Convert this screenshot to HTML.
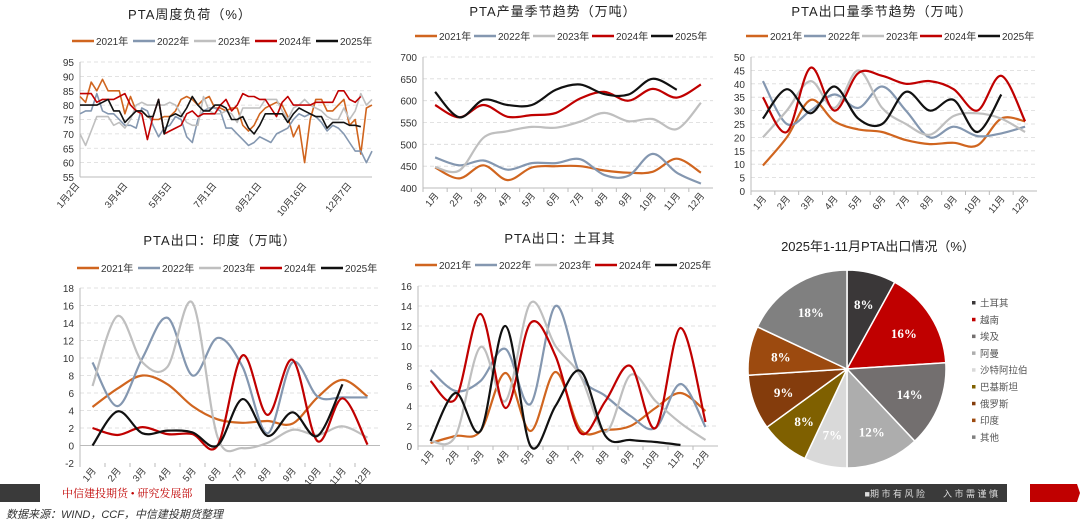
<!DOCTYPE html>
<html><head><meta charset="utf-8"><style>
html,body{margin:0;padding:0;background:#fff;}
svg{display:block;font-family:"Liberation Sans","Noto Sans CJK SC",sans-serif;}
</style></head><body>
<svg id="s" width="1080" height="525" viewBox="0 0 1080 525" xmlns="http://www.w3.org/2000/svg">
<rect width="1080" height="525" fill="#fff"/>
<rect x="0" y="484" width="40" height="18" fill="#3a3a3a"/>
<text x="62" y="497" font-size="11" fill="#c00000" font-family="Liberation Serif,Noto Serif CJK SC,serif">中信建投期货 • 研究发展部</text>
<rect x="205" y="484" width="802" height="18" fill="#3a3a3a"/>
<text x="998" y="497" font-size="9" fill="#ddd" text-anchor="end">■期 市 有 风 险　　入 市 需 谨 慎</text>
<polygon points="1030,484 1077,484 1080,493 1077,502 1030,502" fill="#c00000"/>
<text x="6" y="518" font-size="11" fill="#333" font-style="italic">数据来源：WIND，CCF，中信建投期货整理</text>
<g id="g"></g>
</svg>
<script>
const NS="http://www.w3.org/2000/svg";const G=document.getElementById('g');
function el(t,a,txt){const e=document.createElementNS(NS,t);for(const k in a)e.setAttribute(k,a[k]);if(txt!==undefined)e.textContent=txt;G.appendChild(e);return e;}
const COL=['#d0651f','#8497b0','#bfbfbf','#c00000','#111111'];
const YRS=['2021年','2022年','2023年','2024年','2025年'];
function f(n){return n.toFixed(1);}
function smooth(p){let d='M'+f(p[0][0])+','+f(p[0][1]);for(let i=0;i<p.length-1;i++){const p0=p[i-1]||p[i],p1=p[i],p2=p[i+1],p3=p[i+2]||p2;const c1=[p1[0]+(p2[0]-p0[0])/6,p1[1]+(p2[1]-p0[1])/6],c2=[p2[0]-(p3[0]-p1[0])/6,p2[1]-(p3[1]-p1[1])/6];d+=' C'+f(c1[0])+','+f(c1[1])+' '+f(c2[0])+','+f(c2[1])+' '+f(p2[0])+','+f(p2[1]);}return d;}
function poly(p){return 'M'+p.map(q=>f(q[0])+','+f(q[1])).join(' L');}
function legend(x0,y,spacing){for(let i=0;i<5;i++){const x=x0+i*spacing;el('line',{x1:x,y1:y,x2:x+22,y2:y,stroke:COL[i],'stroke-width':2.5});el('text',{x:x+24,y:y+4,'font-size':10,fill:'#333'},YRS[i]);}}
function chart(o){
 el('text',{x:o.tx,y:o.ty,'font-size':13,'text-anchor':'middle',fill:'#222','letter-spacing':'1'},o.title);
 legend(o.lx,o.ly,o.ls);
 const Y=v=>o.y0+(v-o.vmin)/(o.vmax-o.vmin)*(o.y1-o.y0);
 for(let v=o.vmin;v<=o.vmax+1e-9;v+=o.step){const y=Y(v);
  if(v>o.vmin)el('line',{x1:o.x0,y1:y,x2:o.x1,y2:y,stroke:'#d9d9d9','stroke-dasharray':'4,3','stroke-width':0.8});
  el('text',{x:o.x0-6,y:y+4,'font-size':10,'text-anchor':'end',fill:'#333'},''+v);}
 el('line',{x1:o.x0,y1:o.y1,x2:o.x0,y2:o.y0,stroke:'#bbb'});
 const zy=Y(o.axisAt!==undefined?o.axisAt:o.vmin);
 el('line',{x1:o.x0,y1:zy,x2:o.x1,y2:zy,stroke:'#bbb'});
 const n=o.n,w=(o.x1-o.x0)/n;
 if(o.months){for(let i=0;i<12;i++){const cx=o.x0+w*(i+0.5);el('line',{x1:o.x0+w*i,y1:o.y0,x2:o.x0+w*i,y2:o.y0+4,stroke:'#bbb'});
  el('text',{x:cx+4,y:o.y0+8,'font-size':9.5,'text-anchor':'end',fill:'#333',transform:`rotate(-50 ${cx+4} ${o.y0+8})`},(i+1)+'月');}}
 o.data.forEach((d,k)=>{const pts=d.map((v,i)=>[ (o.xf?o.xf(i):o.x0+w*(i+0.5)), Y(v)]);
  el('path',{d:o.lin?poly(pts):smooth(pts),fill:'none',stroke:COL[k],'stroke-width':o.sw||2.2,'stroke-linejoin':'round'});});
}
const w1=[[83,81,88,85,89,85,85,85,77,83,78,78,76,75,75,76,76,78,82,83,82,80,82,83,79,79,78,79,79,73,71,73,77,79,80,81,80,76,69,73,60,75,82,82,78,78,80,82,73,75,63,79,80],
[77,78,78,84,78,77,77,75,73,73,72,79,78,73,69,72,73,76,75,69,67,75,78,79,79,78,72,72,70,68,66,67,69,68,67,70,71,72,75,77,76,77,76,74,71,73,72,70,67,64,64,60,64],
[70,66,71,76,76,76,73,74,72,75,80,81,80,80,80,80,81,80,77,74,73,73,83,78,77,77,78,77,74,79,79,79,79,82,82,82,78,75,79,80,82,80,79,78,76,75,75,79,75,78,84,80,82],
[84,84,84,81,82,82,82,83,84,80,78,77,68,76,82,70,71,72,73,77,78,76,77,77,77,80,82,78,80,84,83,83,82,82,79,76,81,83,80,80,80,80,81,81,81,81,85,85,82,81,83],
[80,80,80,80,81,82,78,78,74,76,78,78,76,76,82,70,76,77,76,79,83,80,78,78,80,80,79,75,75,76,72,70,73,77,77,77,77,74,77,79,78,77,76,76,72,74,74,74,73,73,72.5]];
chart({title:'PTA周度负荷（%）',tx:190,ty:19,lx:72,ly:41,ls:61,x0:80,x1:372,y0:177,y1:62,vmin:55,vmax:95,step:5,n:12,lin:true,sw:1.6,
 xf:i=>80+i*(292/52),data:w1});
[['1月2日',80],['3月4日',128],['5月5日',172],['7月1日',217],['8月21日',262],['10月16日',307],['12月7日',352]].forEach(([t,x])=>{
 el('text',{x:x,y:186,'font-size':9.5,'text-anchor':'end',fill:'#333',transform:`rotate(-50 ${x} 186)`},t);});
chart({title:'PTA产量季节趋势（万吨）',tx:553,ty:16,lx:415,ly:36,ls:59,x0:423,x1:713,y0:188,y1:57,vmin:400,vmax:700,step:50,n:12,months:true,
 data:[[447,422,452,418,447,450,450,440,435,437,467,435],[470,452,463,442,457,457,466,430,428,478,435,410],[448,440,515,530,540,538,552,572,553,558,535,595],[590,562,590,563,567,572,605,620,600,627,607,637],[620,562,602,590,590,625,637,615,614,650,625]]});
chart({title:'PTA出口量季节趋势（万吨）',tx:882,ty:16,lx:746,ly:36,ls:58,x0:751,x1:1037,y0:191,y1:57,vmin:0,vmax:50,step:5,n:12,months:true,
 data:[[9.5,20,34,26,23,22,19,17.5,18,17,27,26],[41,25,30,36,31,39,30,20,24,20.5,21.5,24],[20,30,41,31,45,31,25,21,28,29,27,22],[35,22,46,30,44,43,40,41,38,30,43,26],[27,38,29,39,27,25,37,30,34,22,36]]});
chart({title:'PTA出口：印度（万吨）',tx:220,ty:245,lx:77,ly:268,ls:61,x0:80,x1:380,y0:463,y1:288,vmin:-2,vmax:18,step:2,axisAt:0,n:12,months:true,
 data:[[4.4,6.5,8,7,4.5,3,2.6,2.8,2.5,5.5,7.5,5.6],[9.5,4.5,10,14.6,8,12.3,9,1.4,9.5,5.6,5.5,5.5],[6.8,14.8,9.5,9,16.3,1,-0.3,0.3,1.8,1.2,2.2,0.9],[2,1.2,2.1,1.3,1.3,0,10.3,3.5,9.8,0.5,5.4,0.1],[0,3.9,1.4,1.7,1.5,0,5.3,1.1,3.8,1.1,7]]});
chart({title:'PTA出口：土耳其',tx:560,ty:243,lx:415,ly:265,ls:60,x0:418,x1:718,y0:446,y1:286,vmin:0,vmax:16,step:2,n:12,months:true,
 data:[[0.3,1,1.5,7.3,1.5,7.4,1.6,1.6,2,3.8,5.3,3.5],[7.6,5.5,6.5,9.7,4.2,14,7,5,3,1.8,6.2,1.9],[0.5,1,9.9,4.5,14.3,10,7,1.4,7.1,4.5,2.3,0.6],[6.5,4.7,13.2,3.8,12.3,9,1.3,4.5,8,1.8,11.8,2.4],[0.5,5.3,1.5,12,0,4,7.5,1,0.6,0.4,0.1]]});
el('text',{x:878,y:251,'font-size':13,'text-anchor':'middle',fill:'#222'},'2025年1-11月PTA出口情况（%）');
const pv=[8,16,14,12,7,8,9,8,18],pc=['#3a3738','#c00000','#736f6f','#adadad','#d9d9d9','#7f6000','#843c0c','#9c4a0f','#808080'];
const pn=['土耳其','越南','埃及','阿曼','沙特阿拉伯','巴基斯坦','俄罗斯','印度','其他'];
const cx=847,cy=369,r=99;let a=-Math.PI/2;
pv.forEach((v,i)=>{const b=a+v/100*2*Math.PI;const x1=cx+r*Math.cos(a),y1=cy+r*Math.sin(a),x2=cx+r*Math.cos(b),y2=cy+r*Math.sin(b);
 el('path',{d:`M${cx},${cy} L${x1},${y1} A${r},${r} 0 ${b-a>Math.PI?1:0} 1 ${x2},${y2} Z`,fill:pc[i],stroke:'#fff','stroke-width':1.5});
 const m=(a+b)/2,lr=r*0.68;el('text',{x:cx+lr*Math.cos(m),y:cy+lr*Math.sin(m)+5,'font-size':13,'font-weight':'bold','text-anchor':'middle',fill:'#fff','font-family':'Liberation Serif,serif'},v+'%');
 a=b;});
pn.forEach((t,i)=>{const y=303+i*16.8;el('rect',{x:972,y:y-2,width:3.5,height:3.5,fill:pc[i]});el('text',{x:980,y:y+3.5,'font-size':9.5,fill:'#555'},t);});
</script>
</body></html>
